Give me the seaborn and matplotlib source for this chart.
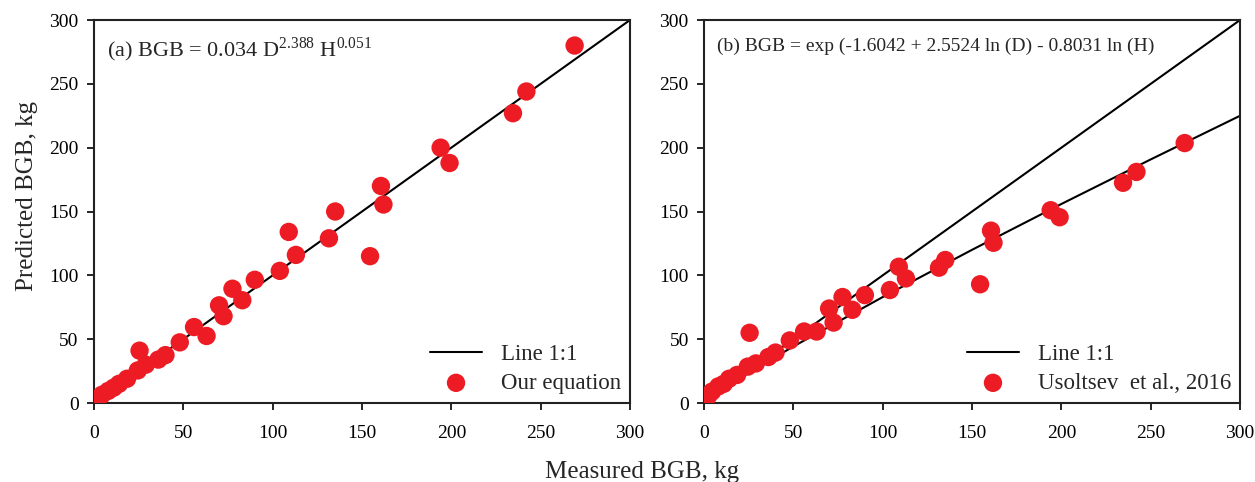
import matplotlib
matplotlib.use("Agg")
import matplotlib.pyplot as plt
import seaborn as sns
import pandas as pd

# Measured below-ground biomass (kg), shared by both panels
measured = [269, 242, 234.5, 194, 199, 160.6, 162, 135, 131.5, 154.5,
            109, 113, 104, 90, 77.5, 83, 70, 72.5, 63, 56,
            48, 40, 36, 25.5, 29, 24.5, 18.5, 14, 11, 8,
            4.5, 2.5, 1.5, 0.5]

# Predicted by our equation (panel a)
pred_ours = [280, 244, 227, 200, 188, 170, 155.5, 150, 129, 115,
             134, 116, 103.5, 96.5, 89.5, 80.5, 76.5, 68, 52.5, 59.5,
             47.5, 37.5, 34, 41, 30, 25.5, 19, 15, 12, 9.5,
             6.5, 4, 2, 1]

# Predicted by Usoltsev et al., 2016 (panel b)
pred_usoltsev = [203.6, 181, 172.5, 151, 145.5, 135, 125.5, 112, 106, 93,
                 106.7, 97.6, 88.5, 84.5, 83, 73, 74, 63, 56, 56,
                 49, 39.5, 36, 55, 31, 28.5, 22, 19, 15, 13,
                 9, 6, 4, 2]

# 1:1 reference line
one_to_one = [0, 300]

# fitted curve through the Usoltsev predictions
fit_x = [0, 25, 50, 100, 150, 200, 250, 300]
fit_y = [0, 23.7, 44.3, 83, 120, 155.9, 190.8, 225]

ticks = [0, 50, 100, 150, 200, 250, 300]

sns.set_style("ticks")
plt.rcParams["font.family"] = ["Liberation Serif", "DejaVu Serif"]
plt.rcParams["mathtext.fontset"] = "custom"
plt.rcParams["mathtext.rm"] = "Liberation Serif"

RED = "#ED1C24"

fig = plt.figure(figsize=(12.55, 4.82), dpi=100)
ax_a = fig.add_axes([0.0749, 0.1639, 0.4271, 0.7946])
ax_b = fig.add_axes([0.5610, 0.1639, 0.4271, 0.7946])

df_a = pd.DataFrame({"measured": measured, "pred": pred_ours})
df_b = pd.DataFrame({"measured": measured, "pred": pred_usoltsev})
df_line = pd.DataFrame({"x": one_to_one, "y": one_to_one})
df_fit = pd.DataFrame({"x": fit_x, "y": fit_y})

panels = [
    (ax_a, df_a, "Our equation",
     r"(a) BGB = 0.034 D$^{2.388}$ H$^{0.051}$", 16, 0.96),
    (ax_b, df_b, "Usoltsev  et al., 2016",
     "(b) BGB = exp (-1.6042 + 2.5524 ln (D) - 0.8031 ln (H)", 14, 0.955),
]

for ax, df, lab, title, tsize, ty in panels:
    sns.lineplot(data=df_line, x="x", y="y", ax=ax, color="black",
                 linewidth=1.5, label="Line 1:1")
    if ax is ax_b:
        sns.lineplot(data=df_fit, x="x", y="y", ax=ax, color="black",
                     linewidth=1.5, legend=False)
    sns.scatterplot(data=df, x="measured", y="pred", ax=ax, color=RED,
                    s=175, edgecolor="none", label=lab, zorder=3)
    ax.set_xlim(0, 300)
    ax.set_ylim(0, 300)
    ax.set_xticks(ticks)
    ax.set_yticks(ticks)
    ax.tick_params(direction="out", length=5, width=1.2, labelsize=14,
                   colors="black")
    ax.tick_params(axis="x", pad=11)
    ax.tick_params(axis="y", pad=6)
    for sp in ax.spines.values():
        sp.set_linewidth(1.5)
        sp.set_color("#222222")
    ax.set_xlabel("")
    ax.set_ylabel("")
    ax.text(0.025, ty, title, transform=ax.transAxes, fontsize=tsize,
            va="top", ha="left")
    ax.legend(loc="lower right", frameon=False, fontsize=16.5,
              handlelength=2.3, handletextpad=0.8, labelspacing=0.35,
              borderaxespad=0.0, markerscale=1.0)

ax_a.set_ylabel("Predicted BGB, kg", fontsize=18)
ax_a.yaxis.set_label_coords(-0.105, 0.54)
fig.text(0.512, -0.002, "Measured BGB, kg", fontsize=18, ha="center",
         va="bottom")

fig.savefig("out.png", dpi=100)
